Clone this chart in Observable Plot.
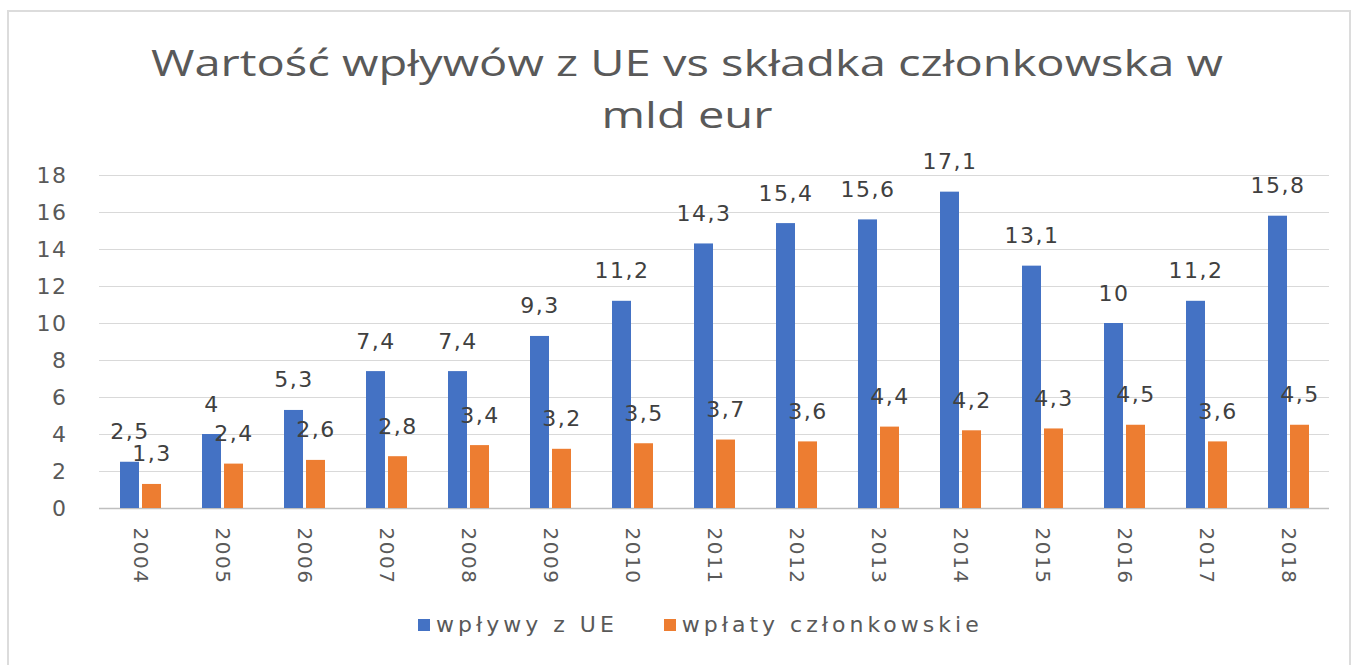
<!DOCTYPE html>
<html>
<head>
<meta charset="utf-8">
<script src="https://cdn.jsdelivr.net/npm/d3@7"></script>
<script src="https://cdn.jsdelivr.net/npm/@observablehq/plot@0.6"></script>
<style>
  html, body { margin: 0; padding: 0; background: #fff; width: 1354px; height: 665px; overflow: hidden; }
  #frame { position: absolute; left: 7px; top: 10px; width: 1344px; height: 700px; border: 2px solid #dcdcdc; box-sizing: border-box; }
  #title { position: absolute; left: 0; top: 36px; width: 1374px; text-align: center; font-family: "Open Sans", sans-serif; font-size: 37px; line-height: 52px; color: #595959; transform-origin: 687px 0; }
  #title span { white-space: nowrap; }
  #chart { position: absolute; left: 0; top: 150px; }
  #legend { position: absolute; left: 418px; top: 612px; display: flex; align-items: center; font-family: "DejaVu Sans", sans-serif; font-size: 22px; color: #595959; letter-spacing: 4px; }
  .sw { display: inline-block; width: 12px; height: 12px; margin-right: 6px; }
  .item { display: flex; align-items: center; margin-right: 46px; }
</style>
</head>
<body>
<div id="frame"></div>
<div id="title"><span id="t1">Wartość wpływów z UE vs składka członkowska w</span><br><span>mld eur</span></div>
<div id="chart"></div>
<div id="legend"></div>
<script>
const years = [2004, 2005, 2006, 2007, 2008, 2009, 2010, 2011, 2012, 2013, 2014, 2015, 2016, 2017, 2018];
const inflows = [2.5, 4, 5.3, 7.4, 7.4, 9.3, 11.2, 14.3, 15.4, 15.6, 17.1, 13.1, 10, 11.2, 15.8];
const contributions = [1.3, 2.4, 2.6, 2.8, 3.4, 3.2, 3.5, 3.7, 3.6, 4.4, 4.2, 4.3, 4.5, 3.6, 4.5];
const seriesNames = ["wpływy z UE", "wpłaty członkowskie"];
const seriesColors = ["#4472C4", "#ED7D31"];
const yTicks = [0, 2, 4, 6, 8, 10, 12, 14, 16, 18];

const rows = years.flatMap((yr, i) => [
  {year: String(yr), series: seriesNames[0], value: inflows[i]},
  {year: String(yr), series: seriesNames[1], value: contributions[i]}
]);
const fmt = v => String(v).replace(".", ",");

// stretch the title horizontally to the width it has in the reference
const t1 = document.getElementById("t1");
const w = t1.getBoundingClientRect().width;
if (w > 0) document.getElementById("title").style.transform = `scaleX(${1072 / w})`;

const chart = Plot.plot({
  width: 1354,
  height: 450,
  marginLeft: 97,
  marginRight: 23,
  marginTop: 25,
  marginBottom: 92,
  fx: {domain: years.map(String), padding: 0, label: null},
  x: {domain: seriesNames, paddingInner: 0.15, paddingOuter: 0.86, axis: null},
  y: {domain: [0, 18], label: null},
  color: {domain: seriesNames, range: seriesColors},
  style: {fontFamily: "DejaVu Sans, sans-serif", background: "transparent", color: "#595959", letterSpacing: "1.5px"},
  marks: [
    Plot.gridY(yTicks, {stroke: "#d9d9d9", strokeOpacity: 1}),
    Plot.ruleY([0], {stroke: "#bfbfbf", strokeWidth: 1.5}),
    Plot.barY(rows, {fx: "year", x: "series", y: "value", fill: "series"}),
    Plot.text(rows, {fx: "year", x: "series", y: "value", text: d => fmt(d.value), dy: -30, fontSize: 22, fill: "#404040"}),
    Plot.axisY(yTicks, {tickSize: 0, tickPadding: 32, fontSize: 22, fill: "#595959", label: null}),
    Plot.axisFx({anchor: "bottom", tickSize: 0, tickRotate: 90, tickPadding: 19, fontSize: 20, fill: "#595959", label: null})
  ]
});
document.getElementById("chart").appendChild(chart);

const legend = document.getElementById("legend");
seriesNames.forEach((name, i) => {
  const item = document.createElement("span");
  item.className = "item";
  const sw = document.createElement("span");
  sw.className = "sw";
  sw.style.background = seriesColors[i];
  item.appendChild(sw);
  item.appendChild(document.createTextNode(name));
  legend.appendChild(item);
});
</script>
</body>
</html>
